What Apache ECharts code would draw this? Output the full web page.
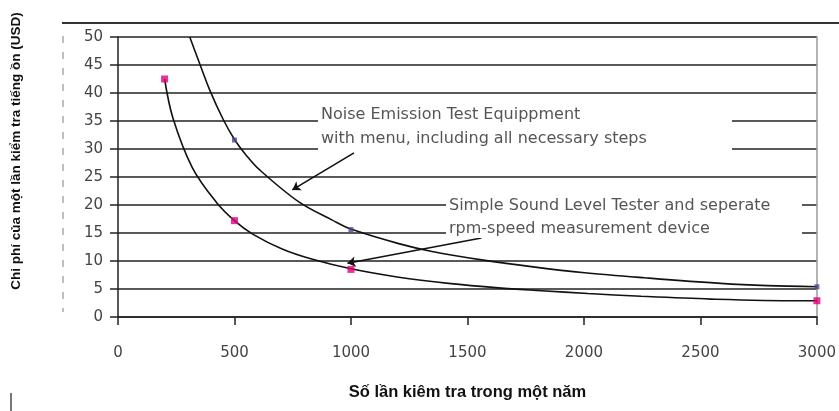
<!DOCTYPE html>
<html>
<head>
<meta charset="utf-8">
<script src="https://cdn.jsdelivr.net/npm/echarts@6/dist/echarts.min.js"></script>
<style>
html,body{margin:0;padding:0;background:#fff;}
#chart{width:839px;height:411px;}
</style>
</head>
<body>
<div id="chart"></div>
<script>
// ---- Data ----
const xTicks = [0, 500, 1000, 1500, 2000, 2500, 3000];
const yTicks = [0, 5, 10, 15, 20, 25, 30, 35, 40, 45, 50];
const seriesNames = ['Noise Emission Test Equippment', 'Simple Sound Level Tester'];

// marker points
const markerX = [200, 500, 1000, 3000];
const noiseMarkerX = [500, 1000, 3000];
const noiseMarkerY = [31.6, 15.6, 5.4];
const simpleMarkerY = [42.5, 17.2, 8.5, 2.9];

// curves
const noiseCurveX = [308, 350, 393, 450, 500, 550, 607, 778, 920, 1000, 1205, 1348, 1561, 1790, 2003, 2260, 2587, 2787, 3000];
const noiseCurveY = [50, 45.3, 40.6, 35.4, 31.7, 28.9, 26.3, 20.5, 17.3, 15.7, 13.1, 11.7, 10.2, 8.9, 7.9, 7.0, 6.0, 5.6, 5.4];
const simpleCurveX = [200, 236, 320, 422, 500, 578, 707, 835, 1000, 1205, 1419, 1633, 1818, 2017, 2245, 2544, 2922, 3000];
const simpleCurveY = [42.5, 35.5, 26.6, 20.5, 17.2, 14.8, 12.1, 10.3, 8.6, 7.1, 6.0, 5.2, 4.7, 4.2, 3.7, 3.2, 2.9, 2.9];

const xTitle = 'Số lần kiêm tra trong một năm';
const yTitle = 'Chi phí của một lần kiểm tra tiếng ồn (USD)';
const note1 = ['Noise Emission Test Equippment', 'with menu, including all necessary steps'];
const note2 = ['Simple Sound Level Tester and seperate', 'rpm-speed measurement device'];

const pairs = (xs, ys) => xs.map((x, i) => [x, ys[i]]);

const chart = echarts.init(document.getElementById('chart'), null, {renderer: 'canvas'});
const tickFont = {color: '#444', fontSize: 15, fontFamily: 'DejaVu Sans, Verdana, sans-serif'};
const noteFont = 'DejaVu Sans, Verdana, sans-serif';

const option = {
  animation: false,
  backgroundColor: '#fff',
  grid: {left: 118, right: 19, top: 37, bottom: 94, containLabel: false},
  xAxis: {
    type: 'value', min: 0, max: 3000, interval: 500,
    name: xTitle, nameLocation: 'middle', nameGap: 67,
    nameTextStyle: {fontWeight: 'bold', fontSize: 16.5, color: '#111', fontFamily: "'Liberation Sans', Arial, sans-serif"},
    axisLine: {lineStyle: {color: '#222', width: 1.5}},
    axisTick: {show: true, inside: false, length: 8, lineStyle: {color: '#222', width: 1.5}},
    axisLabel: Object.assign({margin: 29, formatter: v => String(v)}, tickFont),
    splitLine: {show: false}
  },
  yAxis: [{
    type: 'value', min: 0, max: 50, interval: 5,
    axisLine: {show: true, lineStyle: {color: '#222', width: 1.5}},
    axisTick: {show: true, inside: false, length: 8, lineStyle: {color: '#222', width: 1.5}},
    axisLabel: Object.assign({margin: 15}, tickFont),
    splitLine: {show: true, lineStyle: {color: '#222', width: 1.5}}
  }, {
    type: 'value', min: 0, max: 50, position: 'right',
    axisLine: {show: true, lineStyle: {color: '#999', width: 1.5}},
    axisTick: {show: false}, axisLabel: {show: false}, splitLine: {show: false}
  }],
  series: [{
    name: seriesNames[0], type: 'line', smooth: 0.35, clip: true,
    data: pairs(noiseCurveX, noiseCurveY),
    showSymbol: false, symbol: 'none',
    lineStyle: {color: '#111', width: 1.6},
    z: 3,
    markLine: {
      silent: true, symbol: ['none', 'arrow'], symbolSize: 8,
      lineStyle: {color: '#111', width: 1.6, type: 'solid'},
      label: {show: false},
      data: [
        [{coord: [1013, 29.3]}, {coord: [748, 22.7]}],
        [{coord: [1560, 14.1]}, {coord: [985, 9.6]}]
      ]
    }
  }, {
    name: seriesNames[1], type: 'line', smooth: 0.35, clip: true,
    data: pairs(simpleCurveX, simpleCurveY),
    showSymbol: false, symbol: 'none',
    lineStyle: {color: '#111', width: 1.6},
    z: 3
  }, {
    name: seriesNames[0] + ' markers', type: 'scatter',
    data: pairs(noiseMarkerX, noiseMarkerY),
    symbol: 'rect', symbolSize: 5,
    itemStyle: {color: '#4a4a90'}, z: 4
  }, {
    name: seriesNames[1] + ' markers', type: 'scatter',
    data: pairs(markerX, simpleMarkerY),
    symbol: 'rect', symbolSize: 7,
    itemStyle: {color: '#e0007a'}, z: 4
  }],
  graphic: [
    // frame remnants of the scanned figure
    {type: 'line', z: 100, shape: {x1: 62, y1: 23, x2: 839, y2: 23}, style: {stroke: '#333', lineWidth: 2}},
    {type: 'line', z: 100, shape: {x1: 63, y1: 36, x2: 63, y2: 312}, style: {stroke: '#aaa', lineWidth: 1.5, lineDash: [7, 9]}},
    {type: 'line', z: 100, shape: {x1: 11, y1: 393, x2: 11, y2: 411}, style: {stroke: '#777', lineWidth: 2}},
    // annotation boxes
    {type: 'rect', z: 100, shape: {x: 318, y: 105, width: 414, height: 47}, style: {fill: '#fff'}},
    {type: 'text', z: 101, x: 321, y: 115, style: {text: note1[0], font: '16px ' + noteFont, fill: '#555', verticalAlign: 'middle'}},
    {type: 'text', z: 101, x: 321, y: 139, style: {text: note1[1], font: '16px ' + noteFont, fill: '#555', verticalAlign: 'middle'}},
    {type: 'rect', z: 100, shape: {x: 446, y: 196, width: 356, height: 42}, style: {fill: '#fff'}},
    {type: 'text', z: 101, x: 449, y: 206, style: {text: note2[0], font: '16px ' + noteFont, fill: '#555', verticalAlign: 'middle'}},
    {type: 'text', z: 101, x: 449, y: 229, style: {text: note2[1], font: '16px ' + noteFont, fill: '#555', verticalAlign: 'middle'}},
    // y axis title
    {type: 'text', z: 101, x: 16, y: 151, rotation: Math.PI / 2,
      style: {text: yTitle, font: 'bold 13.5px "Liberation Sans", Arial, sans-serif', fill: '#111', align: 'center', verticalAlign: 'middle'}}
  ]
};
chart.setOption(option);
</script>
</body>
</html>
